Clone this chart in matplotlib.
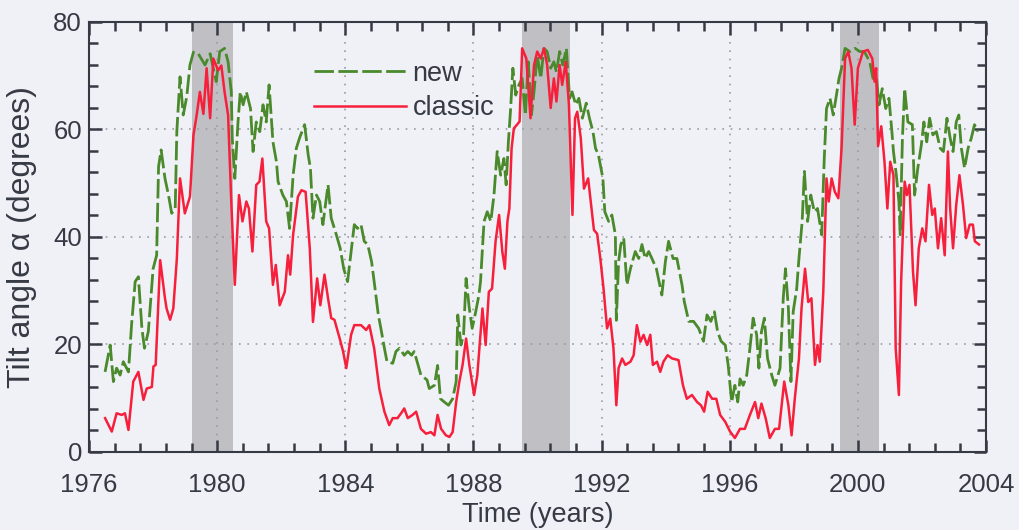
import matplotlib
matplotlib.use("Agg")
import matplotlib.pyplot as plt
from matplotlib.ticker import MultipleLocator

# Heliospheric current sheet tilt angle, two computation methods
years_classic = [
    1976.50, 1976.71, 1976.86, 1977.02, 1977.12, 1977.23, 1977.38, 1977.54, 1977.70, 1977.80,
    1977.96, 1978.01, 1978.08, 1978.22, 1978.37, 1978.42, 1978.53, 1978.63, 1978.74, 1978.84,
    1978.99, 1979.15, 1979.26, 1979.36, 1979.46, 1979.57, 1979.67, 1979.78, 1979.88, 1980.03,
    1980.13, 1980.23, 1980.34, 1980.44, 1980.55, 1980.68, 1980.79, 1980.91, 1980.99, 1981.10,
    1981.22, 1981.32, 1981.41, 1981.53, 1981.62, 1981.74, 1981.83, 1981.95, 1982.11, 1982.21,
    1982.28, 1982.37, 1982.52, 1982.63, 1982.76, 1982.89, 1982.99, 1983.12, 1983.22, 1983.35,
    1983.46, 1983.56, 1983.66, 1983.82, 1983.93, 1984.03, 1984.18, 1984.28, 1984.49, 1984.65,
    1984.75, 1984.90, 1985.06, 1985.22, 1985.37, 1985.48, 1985.63, 1985.74, 1985.84, 1985.95,
    1986.10, 1986.21, 1986.36, 1986.52, 1986.67, 1986.78, 1986.88, 1986.99, 1987.14, 1987.25,
    1987.35, 1987.46, 1987.56, 1987.66, 1987.77, 1987.87, 1988.02, 1988.12, 1988.28, 1988.38,
    1988.48, 1988.58, 1988.69, 1988.80, 1988.90, 1988.98, 1989.06, 1989.12, 1989.19, 1989.26,
    1989.36, 1989.44, 1989.52, 1989.65, 1989.78, 1989.89, 1989.99, 1990.10, 1990.20, 1990.30,
    1990.41, 1990.51, 1990.59, 1990.69, 1990.77, 1990.88, 1990.98, 1991.09, 1991.17, 1991.24,
    1991.35, 1991.45, 1991.58, 1991.66, 1991.76, 1991.86, 1991.96, 1992.06, 1992.17, 1992.27,
    1992.37, 1992.46, 1992.53, 1992.64, 1992.74, 1992.90, 1993.00, 1993.10, 1993.21, 1993.31,
    1993.42, 1993.52, 1993.60, 1993.73, 1993.83, 1993.93, 1994.06, 1994.20, 1994.40, 1994.54,
    1994.66, 1994.82, 1994.98, 1995.10, 1995.20, 1995.31, 1995.45, 1995.58, 1995.70, 1995.86,
    1996.01, 1996.16, 1996.32, 1996.47, 1996.63, 1996.79, 1996.89, 1996.99, 1997.12, 1997.25,
    1997.41, 1997.54, 1997.70, 1997.83, 1997.93, 1998.03, 1998.16, 1998.24, 1998.35, 1998.45,
    1998.55, 1998.66, 1998.74, 1998.81, 1998.92, 1999.02, 1999.09, 1999.18, 1999.28, 1999.39,
    1999.49, 1999.60, 1999.70, 1999.80, 1999.90, 2000.00, 2000.16, 2000.31, 2000.45, 2000.52,
    2000.57, 2000.63, 2000.73, 2000.83, 2000.92, 2001.01, 2001.11, 2001.18, 2001.28, 2001.35,
    2001.46, 2001.53, 2001.61, 2001.72, 2001.80, 2001.90, 2002.01, 2002.11, 2002.22, 2002.32,
    2002.40, 2002.50, 2002.60, 2002.71, 2002.81, 2002.88, 2002.97, 2003.07, 2003.17, 2003.28,
    2003.38, 2003.49, 2003.59, 2003.65, 2003.78,
]
tilt_classic = [
    6.3, 3.8, 7.2, 6.9, 7.2, 4.1, 13.1, 14.9, 9.7, 11.8,
    12.1, 15.9, 16.2, 35.7, 28.6, 26.7, 24.6, 26.7, 35.9, 50.9,
    44.4, 47.5, 59.0, 62.7, 67.0, 62.9, 71.4, 62.1, 73.2, 71.0,
    71.9, 67.0, 62.7, 46.6, 31.1, 47.8, 42.9, 46.6, 45.3, 37.3,
    49.7, 50.3, 54.6, 42.9, 41.6, 31.1, 34.8, 27.3, 29.8, 36.6,
    33.0, 40.4, 47.5, 48.7, 48.4, 37.9, 24.2, 32.3, 27.3, 33.0,
    28.6, 24.9, 24.6, 21.2, 18.7, 15.6, 21.8, 23.6, 23.6, 22.7,
    23.6, 19.3, 11.8, 7.5, 5.0, 6.3, 6.3, 7.2, 8.1, 6.3,
    6.9, 7.5, 4.3, 3.4, 3.7, 3.1, 6.9, 4.3, 3.1, 2.8,
    3.7, 9.3, 13.1, 16.2, 21.1, 16.2, 10.6, 14.3, 26.7, 19.9,
    29.8, 30.4, 39.2, 44.1, 37.3, 34.1, 42.9, 45.3, 56.5, 60.2,
    60.9, 61.5, 75.1, 73.2, 62.1, 72.0, 74.5, 73.2, 75.1, 72.0,
    64.0, 69.5, 65.2, 72.0, 68.3, 72.6, 64.6, 44.1, 62.1, 63.3,
    58.4, 49.0, 50.9, 46.6, 41.3, 40.6, 36.0, 30.4, 23.0, 24.8,
    19.3, 8.7, 15.6, 17.4, 16.2, 16.8, 18.0, 23.6, 20.5, 21.8,
    19.9, 21.8, 16.2, 16.8, 14.9, 16.8, 18.0, 17.4, 17.1, 12.4,
    9.9, 10.6, 9.3, 8.7, 7.5, 11.2, 9.9, 9.9, 6.9, 5.6,
    3.8, 2.6, 4.3, 4.3, 6.9, 9.3, 6.3, 9.0, 6.3, 2.6,
    4.3, 4.3, 13.1, 8.7, 3.1, 9.9, 17.4, 26.7, 34.1, 27.9,
    28.6, 16.2, 19.9, 16.8, 29.8, 50.9, 46.6, 50.9, 48.4, 47.2,
    56.5, 73.2, 74.5, 71.4, 60.9, 71.4, 74.5, 74.8, 73.2, 68.9,
    71.4, 56.9, 60.6, 54.0, 45.3, 54.0, 51.5, 19.3, 10.6, 31.7,
    50.3, 47.8, 49.7, 33.6, 27.3, 37.9, 41.6, 39.2, 49.7, 44.1,
    45.3, 37.9, 43.5, 36.6, 55.9, 45.3, 37.9, 46.0, 51.5, 46.0,
    39.8, 42.3, 42.3, 39.2, 38.6,
]

years_new = [
    1976.50, 1976.66, 1976.76, 1976.86, 1976.97, 1977.07, 1977.23, 1977.33, 1977.44, 1977.54,
    1977.65, 1977.73, 1977.85, 1977.96, 1978.00, 1978.11, 1978.17, 1978.25, 1978.37, 1978.48,
    1978.58, 1978.69, 1978.74, 1978.84, 1978.94, 1979.05, 1979.15, 1979.26, 1979.41, 1979.62,
    1979.78, 1979.97, 1980.08, 1980.23, 1980.34, 1980.44, 1980.47, 1980.55, 1980.65, 1980.72,
    1980.81, 1980.91, 1981.04, 1981.12, 1981.22, 1981.33, 1981.43, 1981.53, 1981.62, 1981.74,
    1981.85, 1981.90, 1982.05, 1982.16, 1982.26, 1982.37, 1982.47, 1982.57, 1982.73, 1982.84,
    1982.91, 1982.99, 1983.10, 1983.20, 1983.30, 1983.46, 1983.56, 1983.72, 1983.84, 1983.95,
    1984.07, 1984.18, 1984.28, 1984.38, 1984.49, 1984.59, 1984.70, 1984.82, 1984.90, 1985.03,
    1985.11, 1985.22, 1985.30, 1985.48, 1985.58, 1985.69, 1985.84, 1985.95, 1986.07, 1986.15,
    1986.36, 1986.55, 1986.62, 1986.78, 1986.88, 1986.97, 1987.09, 1987.22, 1987.35, 1987.46,
    1987.51, 1987.61, 1987.69, 1987.77, 1987.87, 1987.96, 1988.07, 1988.17, 1988.22, 1988.33,
    1988.43, 1988.54, 1988.64, 1988.74, 1988.85, 1988.95, 1989.02, 1989.09, 1989.16, 1989.23,
    1989.32, 1989.42, 1989.52, 1989.62, 1989.71, 1989.81, 1989.89, 1989.99, 1990.10, 1990.20,
    1990.30, 1990.41, 1990.51, 1990.59, 1990.69, 1990.79, 1990.90, 1991.00, 1991.08, 1991.19,
    1991.29, 1991.40, 1991.52, 1991.62, 1991.73, 1991.81, 1991.90, 1991.98, 1992.04, 1992.10,
    1992.22, 1992.32, 1992.43, 1992.46, 1992.53, 1992.60, 1992.69, 1992.79, 1992.90, 1993.05,
    1993.16, 1993.26, 1993.36, 1993.47, 1993.57, 1993.71, 1993.88, 1993.99, 1994.09, 1994.23,
    1994.35, 1994.51, 1994.58, 1994.72, 1994.87, 1995.03, 1995.18, 1995.29, 1995.41, 1995.52,
    1995.62, 1995.73, 1995.86, 1995.95, 1996.06, 1996.16, 1996.25, 1996.32, 1996.42, 1996.53,
    1996.63, 1996.73, 1996.84, 1996.91, 1996.99, 1997.08, 1997.18, 1997.31, 1997.41, 1997.57,
    1997.67, 1997.74, 1997.83, 1997.91, 1997.98, 1998.09, 1998.16, 1998.26, 1998.33, 1998.43,
    1998.53, 1998.64, 1998.74, 1998.87, 1998.95, 1999.02, 1999.13, 1999.23, 1999.33, 1999.41,
    1999.49, 1999.60, 1999.75, 1999.91, 2000.06, 2000.20, 2000.37, 2000.47, 2000.57, 2000.66,
    2000.76, 2000.87, 2000.97, 2001.07, 2001.11, 2001.20, 2001.28, 2001.32, 2001.39, 2001.46,
    2001.56, 2001.70, 2001.77, 2001.87, 2001.98, 2002.06, 2002.15, 2002.24, 2002.34, 2002.45,
    2002.57, 2002.67, 2002.78, 2002.88, 2002.97, 2003.07, 2003.15, 2003.23, 2003.33, 2003.44,
    2003.54, 2003.64, 2003.75,
]
tilt_new = [
    14.9, 19.9, 13.1, 15.6, 14.3, 16.8, 14.9, 23.9, 31.7, 32.6,
    23.0, 19.3, 22.4, 31.0, 34.1, 36.6, 53.1, 56.2, 50.9, 47.8,
    44.4, 45.3, 59.6, 69.8, 62.7, 66.1, 72.0, 74.4, 74.1, 72.0,
    74.1, 68.9, 74.5, 75.1, 72.6, 67.0, 58.4, 50.9, 61.4, 67.0,
    64.6, 67.0, 63.9, 55.9, 61.4, 59.6, 64.6, 61.4, 68.3, 57.7,
    54.0, 50.3, 47.8, 46.6, 41.6, 51.5, 56.5, 58.4, 60.9, 55.3,
    52.8, 43.5, 47.8, 46.6, 42.3, 49.7, 43.5, 40.4, 37.9, 34.1,
    31.7, 37.3, 42.3, 41.6, 42.3, 39.2, 38.6, 35.4, 31.7, 25.5,
    23.0, 19.3, 16.8, 16.5, 18.7, 19.3, 18.0, 18.7, 18.0, 18.7,
    14.3, 13.4, 11.8, 12.4, 16.1, 9.9, 9.3, 8.7, 9.9, 13.1,
    25.5, 19.9, 21.8, 32.3, 26.7, 23.0, 26.1, 29.2, 31.7, 42.9,
    44.7, 42.9, 47.8, 55.9, 51.5, 54.6, 49.7, 57.7, 63.9, 71.4,
    66.4, 68.3, 69.5, 62.7, 72.6, 62.7, 67.0, 73.9, 69.5, 75.1,
    74.5, 71.4, 72.6, 70.7, 74.5, 72.0, 75.1, 65.8, 67.0, 64.6,
    65.8, 62.1, 64.9, 62.1, 59.6, 56.5, 55.3, 52.8, 50.9, 44.7,
    42.9, 44.1, 40.4, 24.5, 35.4, 38.6, 39.8, 31.1, 34.1, 37.3,
    36.0, 38.6, 36.0, 37.3, 36.0, 34.1, 29.2, 35.4, 39.2, 36.0,
    36.0, 31.1, 28.0, 24.3, 24.3, 23.0, 20.6, 25.5, 24.3, 26.1,
    22.4, 20.6, 19.9, 16.2, 9.3, 12.4, 9.3, 13.6, 12.4, 14.3,
    19.3, 24.9, 21.8, 15.6, 22.4, 24.9, 17.4, 14.3, 12.4, 15.6,
    28.6, 34.1, 26.7, 13.1, 26.1, 30.4, 36.0, 42.9, 52.2, 42.9,
    47.8, 44.7, 45.3, 40.4, 54.6, 63.9, 65.8, 62.7, 66.4, 69.5,
    71.4, 75.1, 74.5, 75.1, 74.5, 74.5, 72.6, 69.5, 70.1, 64.6,
    67.6, 63.9, 65.8, 59.0, 55.9, 51.5, 46.6, 40.4, 58.4, 67.6,
    61.4, 60.9, 47.8, 52.8, 57.1, 61.4, 57.7, 62.1, 59.0, 59.6,
    56.5, 55.9, 62.1, 58.4, 55.9, 61.4, 62.7, 56.5, 52.8, 56.5,
    58.4, 60.9, 59.6,
]

# Solar maximum periods (start, end in years)
max_starts = [1979.2, 1989.5, 1999.45]
max_ends = [1980.5, 1991.0, 2000.65]

ink = "#363a44"
paper = "#f0f1f6"
plt.rcParams["font.family"] = ["Liberation Sans", "DejaVu Sans"]

fig = plt.figure(figsize=(10.2, 5.3), dpi=100, facecolor=paper)
ax = fig.add_axes([0.0873, 0.1472, 0.8794, 0.8113], facecolor=paper)

for s, e in zip(max_starts, max_ends):
    ax.axvspan(s, e, color="#c0c0c4", lw=0, zorder=1)

ax.plot(years_new, tilt_new, color="#4a8a2c", lw=2.0, dashes=(7, 1.6),
        label="new", zorder=3)
ax.plot(years_classic, tilt_classic, color="#f7203c", lw=1.8,
        label="classic", zorder=4)

ax.set_xlim(1976, 2004)
ax.set_ylim(0, 80)
ax.xaxis.set_major_locator(MultipleLocator(4))
ax.xaxis.set_minor_locator(MultipleLocator(0.8))
ax.yaxis.set_major_locator(MultipleLocator(20))
ax.yaxis.set_minor_locator(MultipleLocator(4))

ax.grid(True, which="major", color="#9a9aa4", ls=(0, (1, 4)), lw=1.2, zorder=0)
ax.tick_params(which="both", direction="in", top=True, right=True,
               colors=ink, labelsize=18.5, width=1.8)
ax.tick_params(which="major", length=9)
ax.tick_params(which="minor", length=6.5)
ax.tick_params(axis="x", which="major", pad=15)
ax.tick_params(axis="y", which="major", pad=5)
for sp in ax.spines.values():
    sp.set_color(ink)
    sp.set_linewidth(1.5)

ax.set_xlabel("Time (years)", fontsize=19.5, color=ink, va="top")
ax.xaxis.set_label_coords(0.5, -0.1163)
ax.set_ylabel("Tilt angle \u03b1 (degrees)", fontsize=23, color=ink, labelpad=12)

leg = ax.legend(loc="upper left", bbox_to_anchor=(0.224, 0.967), frameon=False,
                fontsize=19.5, handlelength=3.4, handletextpad=0.22,
                labelspacing=0.33, labelcolor=ink)

fig.savefig("out.png", dpi=100, facecolor=paper)
